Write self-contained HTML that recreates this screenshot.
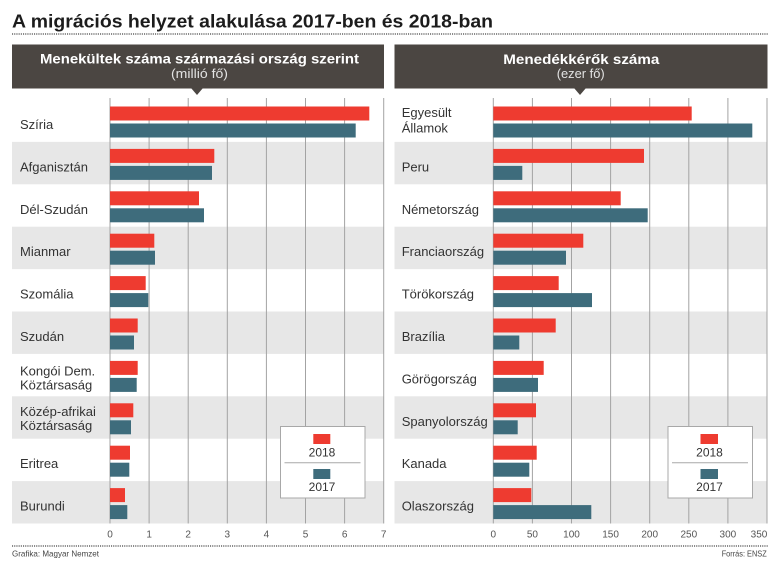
<!DOCTYPE html>
<html><head><meta charset="utf-8"><style>
html,body{margin:0;padding:0;background:#fff;}
svg{display:block;}
text{font-family:"Liberation Sans",Arial,sans-serif;}
</style></head><body>
<svg width="780" height="571" viewBox="0 0 780 571" xmlns="http://www.w3.org/2000/svg">
<rect width="780" height="571" fill="#fff"/>
<!-- Title -->
<text x="12" y="27.5" font-size="18" font-weight="bold" fill="#1c1c1c" textLength="481" lengthAdjust="spacingAndGlyphs">A migrációs helyzet alakulása 2017-ben és 2018-ban</text>
<line x1="12" y1="34" x2="768" y2="34" stroke="#444" stroke-width="1.3" stroke-dasharray="1.1 1.1"/>

<!-- Headers -->
<rect x="12" y="44.5" width="372" height="44" fill="#4b4642"/>
<polygon points="191,88 203,88 197,95" fill="#4b4642"/>
<text x="40" y="63.7" font-size="14" font-weight="bold" fill="#fff" textLength="319" lengthAdjust="spacingAndGlyphs">Menekültek száma származási ország szerint</text>
<text x="171" y="78" font-size="13" fill="#e2e2e2" textLength="57" lengthAdjust="spacingAndGlyphs">(millió fő)</text>

<rect x="394.5" y="44.5" width="373" height="44" fill="#4b4642"/>
<polygon points="574,88 586,88 580,95" fill="#4b4642"/>
<text x="503.3" y="64" font-size="14" font-weight="bold" fill="#fff" textLength="156" lengthAdjust="spacingAndGlyphs">Menedékkérők száma</text>
<text x="556.7" y="78" font-size="13" fill="#e2e2e2" textLength="48" lengthAdjust="spacingAndGlyphs">(ezer fő)</text>

<!-- Gray bands -->
<g fill="#e7e7e7">
<rect x="12" y="141.9" width="371.7" height="42.4"/>
<rect x="12" y="226.7" width="371.7" height="42.4"/>
<rect x="12" y="311.5" width="371.7" height="42.4"/>
<rect x="12" y="396.3" width="371.7" height="42.4"/>
<rect x="12" y="481.1" width="371.7" height="42.4"/>
<rect x="394.5" y="141.9" width="373" height="42.4"/>
<rect x="394.5" y="226.7" width="373" height="42.4"/>
<rect x="394.5" y="311.5" width="373" height="42.4"/>
<rect x="394.5" y="396.3" width="373" height="42.4"/>
<rect x="394.5" y="481.1" width="373" height="42.4"/>
</g>

<!-- Gridlines -->
<g stroke="#a3a3a3" stroke-width="1">
<line x1="110" y1="98" x2="110" y2="523.5"/>
<line x1="149.1" y1="98" x2="149.1" y2="523.5"/>
<line x1="188.2" y1="98" x2="188.2" y2="523.5"/>
<line x1="227.3" y1="98" x2="227.3" y2="523.5"/>
<line x1="266.4" y1="98" x2="266.4" y2="523.5"/>
<line x1="305.5" y1="98" x2="305.5" y2="523.5"/>
<line x1="344.6" y1="98" x2="344.6" y2="523.5"/>
<line x1="383.7" y1="98" x2="383.7" y2="523.5"/>
<line x1="493.3" y1="98" x2="493.3" y2="523.5"/>
<line x1="532.4" y1="98" x2="532.4" y2="523.5"/>
<line x1="571.5" y1="98" x2="571.5" y2="523.5"/>
<line x1="610.6" y1="98" x2="610.6" y2="523.5"/>
<line x1="649.7" y1="98" x2="649.7" y2="523.5"/>
<line x1="688.8" y1="98" x2="688.8" y2="523.5"/>
<line x1="727.9" y1="98" x2="727.9" y2="523.5"/>
<line x1="767" y1="98" x2="767" y2="523.5"/>
</g>

<!-- Left bars -->
<g fill="#ee3b30">
<rect x="110" y="106.5" width="259.3" height="14"/>
<rect x="110" y="148.9" width="104.3" height="14"/>
<rect x="110" y="191.3" width="89" height="14"/>
<rect x="110" y="233.7" width="44.3" height="14"/>
<rect x="110" y="276.1" width="35.7" height="14"/>
<rect x="110" y="318.5" width="27.7" height="14"/>
<rect x="110" y="360.9" width="27.7" height="14"/>
<rect x="110" y="403.3" width="23.3" height="14"/>
<rect x="110" y="445.7" width="20" height="14"/>
<rect x="110" y="488.1" width="15" height="14"/>
</g>
<g fill="#3e6c7c">
<rect x="110" y="123.5" width="245.7" height="14"/>
<rect x="110" y="165.9" width="102" height="14"/>
<rect x="110" y="208.3" width="94" height="14"/>
<rect x="110" y="250.7" width="45" height="14"/>
<rect x="110" y="293.1" width="38.3" height="14"/>
<rect x="110" y="335.5" width="24" height="14"/>
<rect x="110" y="377.9" width="26.7" height="14"/>
<rect x="110" y="420.3" width="21" height="14"/>
<rect x="110" y="462.7" width="19.3" height="14"/>
<rect x="110" y="505.1" width="17.3" height="14"/>
</g>

<!-- Right bars -->
<g fill="#ee3b30">
<rect x="493.3" y="106.5" width="198.4" height="14"/>
<rect x="493.3" y="148.9" width="150.7" height="14"/>
<rect x="493.3" y="191.3" width="127.4" height="14"/>
<rect x="493.3" y="233.7" width="90" height="14"/>
<rect x="493.3" y="276.1" width="65.4" height="14"/>
<rect x="493.3" y="318.5" width="62.4" height="14"/>
<rect x="493.3" y="360.9" width="50.4" height="14"/>
<rect x="493.3" y="403.3" width="42.7" height="14"/>
<rect x="493.3" y="445.7" width="43.4" height="14"/>
<rect x="493.3" y="488.1" width="38" height="14"/>
</g>
<g fill="#3e6c7c">
<rect x="493.3" y="123.5" width="259" height="14"/>
<rect x="493.3" y="165.9" width="29" height="14"/>
<rect x="493.3" y="208.3" width="154.4" height="14"/>
<rect x="493.3" y="250.7" width="72.7" height="14"/>
<rect x="493.3" y="293.1" width="98.7" height="14"/>
<rect x="493.3" y="335.5" width="26" height="14"/>
<rect x="493.3" y="377.9" width="44.7" height="14"/>
<rect x="493.3" y="420.3" width="24.4" height="14"/>
<rect x="493.3" y="462.7" width="36" height="14"/>
<rect x="493.3" y="505.1" width="98" height="14"/>
</g>

<!-- Left labels -->
<g font-size="13" fill="#333">
<text x="20" y="129">Szíria</text>
<text x="20" y="171.4">Afganisztán</text>
<text x="20" y="213.8">Dél-Szudán</text>
<text x="20" y="256.2">Mianmar</text>
<text x="20" y="298.6">Szomália</text>
<text x="20" y="341">Szudán</text>
<text x="20" y="375.5">Kongói Dem.</text>
<text x="20" y="389.3">Köztársaság</text>
<text x="20" y="416">Közép-afrikai</text>
<text x="20" y="430">Köztársaság</text>
<text x="20" y="468.2">Eritrea</text>
<text x="20" y="510.6">Burundi</text>
</g>
<!-- Right labels -->
<g font-size="13" fill="#333">
<text x="401.7" y="117">Egyesült</text>
<text x="401.7" y="132.5">Államok</text>
<text x="401.7" y="171.4">Peru</text>
<text x="401.7" y="213.8">Németország</text>
<text x="401.7" y="256.2">Franciaország</text>
<text x="401.7" y="298.6">Törökország</text>
<text x="401.7" y="341">Brazília</text>
<text x="401.7" y="383.4">Görögország</text>
<text x="401.7" y="425.8">Spanyolország</text>
<text x="401.7" y="468.2">Kanada</text>
<text x="401.7" y="510.6">Olaszország</text>
</g>

<!-- Legends -->
<g>
<rect x="280.5" y="426.5" width="84.5" height="71.5" fill="#fff" stroke="#a8a8a8" stroke-width="1"/>
<rect x="313.3" y="434" width="17" height="10" fill="#ee3b30"/>
<text x="322" y="456.7" font-size="12" fill="#333" text-anchor="middle">2018</text>
<line x1="284.5" y1="462.7" x2="360.5" y2="462.7" stroke="#a8a8a8" stroke-width="1"/>
<rect x="313.3" y="469" width="17" height="10" fill="#3e6c7c"/>
<text x="322" y="491" font-size="12" fill="#333" text-anchor="middle">2017</text>

<rect x="668" y="426.5" width="84.5" height="71.5" fill="#fff" stroke="#a8a8a8" stroke-width="1"/>
<rect x="700.5" y="434" width="17.5" height="10" fill="#ee3b30"/>
<text x="709.5" y="456.7" font-size="12" fill="#333" text-anchor="middle">2018</text>
<line x1="672" y1="462.7" x2="748" y2="462.7" stroke="#a8a8a8" stroke-width="1"/>
<rect x="700.5" y="469" width="17.5" height="10" fill="#3e6c7c"/>
<text x="709.5" y="491" font-size="12" fill="#333" text-anchor="middle">2017</text>
</g>

<!-- Tick labels -->
<g font-size="10" fill="#555" text-anchor="middle">
<text x="110" y="537.5">0</text>
<text x="149.1" y="537.5">1</text>
<text x="188.2" y="537.5">2</text>
<text x="227.3" y="537.5">3</text>
<text x="266.4" y="537.5">4</text>
<text x="305.5" y="537.5">5</text>
<text x="344.6" y="537.5">6</text>
<text x="383.7" y="537.5">7</text>
<text x="493.3" y="537.5">0</text>
<text x="532.4" y="537.5">50</text>
<text x="571.5" y="537.5">100</text>
<text x="610.6" y="537.5">150</text>
<text x="649.7" y="537.5">200</text>
<text x="688.8" y="537.5">250</text>
<text x="727.9" y="537.5">300</text>
<text x="759" y="537.5">350</text>
</g>

<!-- Footer -->
<line x1="12" y1="546" x2="768" y2="546" stroke="#444" stroke-width="1.3" stroke-dasharray="1.1 1.1"/>
<text x="12" y="556.5" font-size="8.5" fill="#444" textLength="87" lengthAdjust="spacingAndGlyphs">Grafika: Magyar Nemzet</text>
<text x="721.7" y="556.5" font-size="8.5" fill="#444" textLength="45" lengthAdjust="spacingAndGlyphs">Forrás: ENSZ</text>
</svg>
</body></html>
